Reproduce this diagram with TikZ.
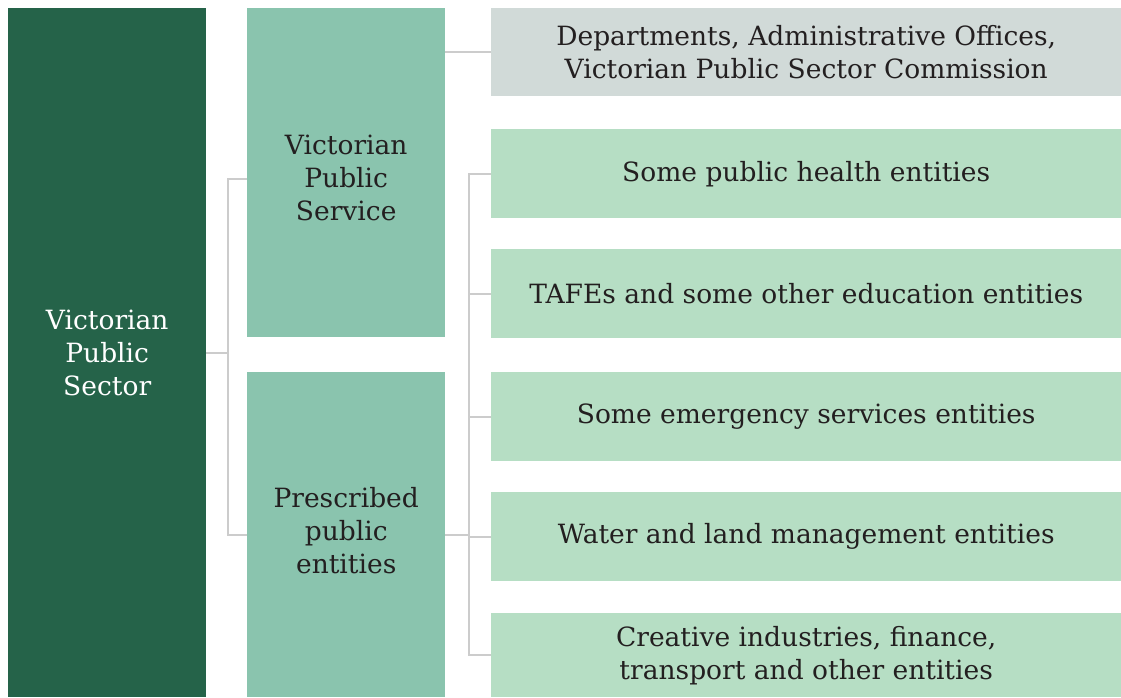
\documentclass[tikz,border=0pt]{standalone}
\usepackage{fontspec}
\setmainfont{DejaVu Serif}
\definecolor{dkgreen}{HTML}{256349}
\definecolor{midgreen}{HTML}{8AC4AE}
\definecolor{ltgreen}{HTML}{B6DEC4}
\definecolor{boxgray}{HTML}{D1DAD8}
\definecolor{linegray}{HTML}{CCCCCC}
\definecolor{txt}{HTML}{231F20}
\tikzset{
  boxfont/.style={font=\fontsize{26.5}{33}\selectfont, text=txt, align=center},
  box/.style={anchor=north west, inner sep=0pt, boxfont},
  topbox/.style={box, fill=dkgreen, text=white, minimum width=198pt},
  midbox/.style={box, fill=midgreen, minimum width=198pt},
  midtext/.style={boxfont, inner sep=0pt},
  rbox/.style={box, fill=ltgreen, minimum width=630pt},
  gbox/.style={box, fill=boxgray, minimum width=630pt},
  conn/.style={draw=linegray, line width=2pt}
}
\begin{document}
\begin{tikzpicture}[x=1pt,y=1pt]
\useasboundingbox (0,0) rectangle (1121,697);
\fill[white] (0,0) rectangle (1121,697);
\node[topbox, minimum height=689pt] (lps) at (8,689) {Victorian\\Public\\Sector};
\node[midbox, minimum height=329pt,
  label={[midtext, yshift=-5pt]center:Victorian\\Public\\Service}] (vpsvc) at (247,689) {};
\node[midbox, minimum height=325pt,
  label={[midtext, yshift=4pt]center:Prescribed\\public\\entities}] (ppe) at (247,325) {};
\node[gbox, minimum height=88pt] (gray) at (491,689) {Departments, Administrative Offices,\\Victorian Public Sector Commission};
\node[rbox, minimum height=89pt] (g1) at (491,568) {Some public health entities};
\node[rbox, minimum height=89pt] (g2) at (491,448) {TAFEs and some other education entities};
\node[rbox, minimum height=89pt] (g3) at (491,325) {Some emergency services entities};
\node[rbox, minimum height=89pt] (g4) at (491,205) {Water and land management entities};
\node[rbox, minimum height=84pt] (g5) at (491,84) {Creative industries, finance,\\transport and other entities};
% left connectors
\draw[conn] (lps.east) -- ++(22,0) coordinate (j1);
\draw[conn] ([yshift=-6pt]vpsvc.west) -| (j1) |- (ppe.west);
% top connector
\draw[conn] (vpsvc.east |- gray.west) -- (gray.west);
% right connectors
\draw[conn] (ppe.east) -- ++(24,0) coordinate (j2);
\draw[conn] (g1.west) -| (j2) |- (g5.west);
\draw[conn] (g2.west) -- (g2.west -| j2);
\draw[conn] (g3.west) -- (g3.west -| j2);
\draw[conn] (g4.west) -- (g4.west -| j2);
\end{tikzpicture}
\end{document}
